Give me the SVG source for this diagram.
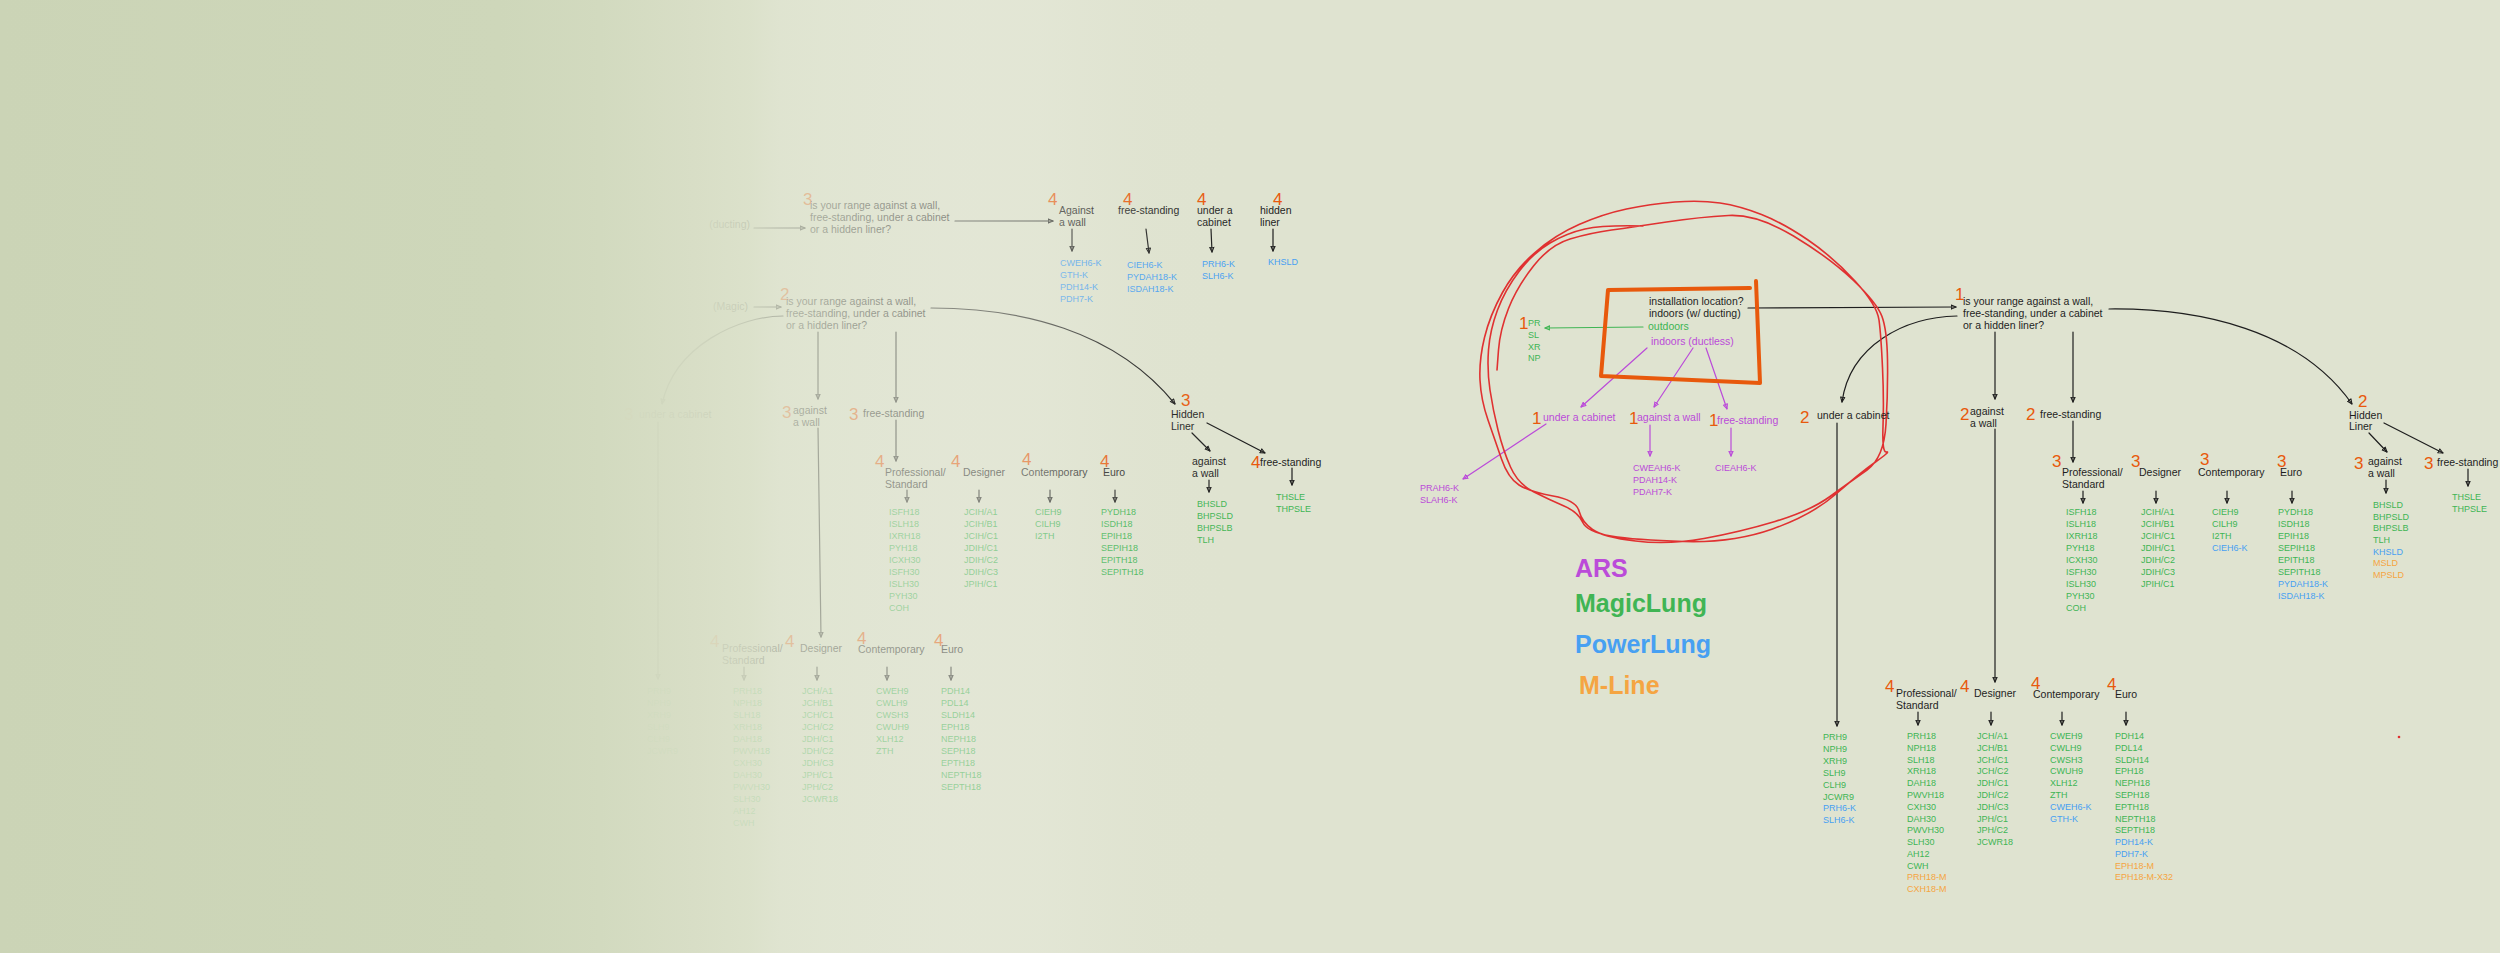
<svg xmlns="http://www.w3.org/2000/svg" width="2500" height="953" viewBox="0 0 2500 953">
<defs>
<style>
text{font-family:"Liberation Sans",Arial,Helvetica,sans-serif}
.t{font-size:10.5px;fill:#1e1e1e}
.n{font-size:17px;fill:#e8590c}
.l{font-size:9px}
.g{fill:#40b554}
.b{fill:#47a0f2}
.o{fill:#f5a542}
.p{fill:#bb4bd9}
.lg{font-size:25px;font-weight:bold}
.c{fill:none;stroke:#1e1e1e;stroke-width:1.2;stroke-linecap:round;marker-end:url(#ak)}
.cp{stroke:#bb4bd9;marker-end:url(#ap)}
.cg{stroke:#40b554;marker-end:url(#ag)}
</style>
<marker id="ak" viewBox="0 0 10 10" refX="9" refY="5" markerWidth="6" markerHeight="6" markerUnits="userSpaceOnUse" orient="auto"><path d="M1,1.5 L9,5 L1,8.5 Z" fill="none" stroke="#1e1e1e" stroke-width="1.8" stroke-linejoin="round"/></marker>
<marker id="ap" viewBox="0 0 10 10" refX="9" refY="5" markerWidth="6" markerHeight="6" markerUnits="userSpaceOnUse" orient="auto"><path d="M1,1.5 L9,5 L1,8.5 Z" fill="none" stroke="#bb4bd9" stroke-width="1.8" stroke-linejoin="round"/></marker>
<marker id="ag" viewBox="0 0 10 10" refX="9" refY="5" markerWidth="6" markerHeight="6" markerUnits="userSpaceOnUse" orient="auto"><path d="M1,1.5 L9,5 L1,8.5 Z" fill="none" stroke="#40b554" stroke-width="1.8" stroke-linejoin="round"/></marker>
<linearGradient id="fade" gradientUnits="userSpaceOnUse" x1="0" y1="0" x2="1250" y2="0">
<stop offset="0" stop-color="#cbd4b6" stop-opacity="1"/>
<stop offset="0.40" stop-color="#ced7ba" stop-opacity="1"/>
<stop offset="0.48" stop-color="#d2dabf" stop-opacity="1"/>
<stop offset="0.56" stop-color="#d8dec6" stop-opacity="0.95"/>
<stop offset="0.60" stop-color="#dbe1ca" stop-opacity="0.88"/>
<stop offset="0.624" stop-color="#dfe4d0" stop-opacity="0.76"/>
<stop offset="0.66" stop-color="#e1e6d3" stop-opacity="0.68"/>
<stop offset="0.704" stop-color="#e3e7d6" stop-opacity="0.6"/>
<stop offset="0.768" stop-color="#e6e9da" stop-opacity="0.52"/>
<stop offset="0.832" stop-color="#e7eadb" stop-opacity="0.42"/>
<stop offset="0.88" stop-color="#e6e9da" stop-opacity="0.22"/>
<stop offset="0.928" stop-color="#e3e6d4" stop-opacity="0.08"/>
<stop offset="1" stop-color="#dfe3d0" stop-opacity="0"/>
</linearGradient>
</defs>
<rect width="2500" height="953" fill="#dfe3d0"/>

<!-- ===== LEFT (older, faded) tree ===== -->
<g id="left-tree">
<g id="l-ducting"><text class="t" x="750" y="228" text-anchor="end">(ducting)</text></g>
<g id="l-q3"><text class="n" x="803" y="205">3</text><text class="t"><tspan x="810" y="209">is your range against a wall,</tspan><tspan x="810" y="221">free-standing, under a cabinet</tspan><tspan x="810" y="233">or a hidden liner?</tspan></text></g>
<g id="l-q3-wall"><text class="n" x="1048" y="205">4</text><text class="t"><tspan x="1059" y="214">Against</tspan><tspan x="1059" y="226">a wall</tspan></text>
<text class="l b"><tspan x="1060" y="266">CWEH6-K</tspan><tspan x="1060" y="278">GTH-K</tspan><tspan x="1060" y="290">PDH14-K</tspan><tspan x="1060" y="302">PDH7-K</tspan></text></g>
<g id="l-q3-free"><text class="n" x="1123" y="205">4</text><text class="t" x="1118" y="214">free-standing</text>
<text class="l b"><tspan x="1127" y="268">CIEH6-K</tspan><tspan x="1127" y="280">PYDAH18-K</tspan><tspan x="1127" y="292">ISDAH18-K</tspan></text></g>
<g id="l-q3-cab"><text class="n" x="1197" y="205">4</text><text class="t"><tspan x="1197" y="214">under a</tspan><tspan x="1197" y="226">cabinet</tspan></text>
<text class="l b"><tspan x="1202" y="267">PRH6-K</tspan><tspan x="1202" y="279">SLH6-K</tspan></text></g>
<g id="l-q3-hidden"><text class="n" x="1273" y="205">4</text><text class="t"><tspan x="1260" y="214">hidden</tspan><tspan x="1260" y="226">liner</tspan></text>
<text class="l b" x="1268" y="265">KHSLD</text></g>

<g id="l-magic"><text class="t" x="713" y="310">(Magic)</text></g>
<g id="l-q2"><text class="n" x="780" y="300">2</text><text class="t"><tspan x="786" y="305">is your range against a wall,</tspan><tspan x="786" y="317">free-standing, under a cabinet</tspan><tspan x="786" y="329">or a hidden liner?</tspan></text></g>
<g id="l-cab"><text class="n" x="624" y="420">3</text><text class="t" x="639" y="418">under a cabinet</text>
<text class="l g"><tspan x="647" y="694">PRH9</tspan><tspan x="647" y="706">NPH9</tspan><tspan x="647" y="718">XRH9</tspan><tspan x="647" y="730">SLH9</tspan><tspan x="647" y="742">CLH9</tspan><tspan x="647" y="754">JCWR9</tspan></text></g>
<g id="l-wall"><text class="n" x="782" y="418">3</text><text class="t"><tspan x="793" y="414">against</tspan><tspan x="793" y="426">a wall</tspan></text></g>
<g id="l-free"><text class="n" x="849" y="420">3</text><text class="t" x="863" y="417">free-standing</text></g>
<g id="l-hidden"><text class="n" x="1181" y="406">3</text><text class="t"><tspan x="1171" y="418">Hidden</tspan><tspan x="1171" y="430">Liner</tspan></text></g>
<g id="l-hl-wall"><text class="t"><tspan x="1192" y="465">against</tspan><tspan x="1192" y="477">a wall</tspan></text>
<text class="l g"><tspan x="1197" y="507">BHSLD</tspan><tspan x="1197" y="519">BHPSLD</tspan><tspan x="1197" y="531">BHPSLB</tspan><tspan x="1197" y="543">TLH</tspan></text></g>
<g id="l-hl-free"><text class="n" x="1251" y="468">4</text><text class="t" x="1260" y="466">free-standing</text>
<text class="l g"><tspan x="1276" y="500">THSLE</tspan><tspan x="1276" y="512">THPSLE</tspan></text></g>

<g id="l-fs-prof"><text class="n" x="875" y="467">4</text><text class="t"><tspan x="885" y="476">Professional/</tspan><tspan x="885" y="488">Standard</tspan></text>
<text class="l g"><tspan x="889" y="515">ISFH18</tspan><tspan x="889" y="527">ISLH18</tspan><tspan x="889" y="539">IXRH18</tspan><tspan x="889" y="551">PYH18</tspan><tspan x="889" y="563">ICXH30</tspan><tspan x="889" y="575">ISFH30</tspan><tspan x="889" y="587">ISLH30</tspan><tspan x="889" y="599">PYH30</tspan><tspan x="889" y="611">COH</tspan></text></g>
<g id="l-fs-designer"><text class="n" x="951" y="467">4</text><text class="t" x="963" y="476">Designer</text>
<text class="l g"><tspan x="964" y="515">JCIH/A1</tspan><tspan x="964" y="527">JCIH/B1</tspan><tspan x="964" y="539">JCIH/C1</tspan><tspan x="964" y="551">JDIH/C1</tspan><tspan x="964" y="563">JDIH/C2</tspan><tspan x="964" y="575">JDIH/C3</tspan><tspan x="964" y="587">JPIH/C1</tspan></text></g>
<g id="l-fs-contemporary"><text class="n" x="1022" y="465">4</text><text class="t" x="1021" y="476">Contemporary</text>
<text class="l g"><tspan x="1035" y="515">CIEH9</tspan><tspan x="1035" y="527">CILH9</tspan><tspan x="1035" y="539">I2TH</tspan></text></g>
<g id="l-fs-euro"><text class="n" x="1100" y="467">4</text><text class="t" x="1103" y="476">Euro</text>
<text class="l g"><tspan x="1101" y="515">PYDH18</tspan><tspan x="1101" y="527">ISDH18</tspan><tspan x="1101" y="539">EPIH18</tspan><tspan x="1101" y="551">SEPIH18</tspan><tspan x="1101" y="563">EPITH18</tspan><tspan x="1101" y="575">SEPITH18</tspan></text></g>

<g id="l-aw-prof"><text class="n" x="710" y="647">4</text><text class="t"><tspan x="722" y="652">Professional/</tspan><tspan x="722" y="664">Standard</tspan></text>
<text class="l g"><tspan x="733" y="694">PRH18</tspan><tspan x="733" y="706">NPH18</tspan><tspan x="733" y="718">SLH18</tspan><tspan x="733" y="730">XRH18</tspan><tspan x="733" y="742">DAH18</tspan><tspan x="733" y="754">PWVH18</tspan><tspan x="733" y="766">CXH30</tspan><tspan x="733" y="778">DAH30</tspan><tspan x="733" y="790">PWVH30</tspan><tspan x="733" y="802">SLH30</tspan><tspan x="733" y="814">AH12</tspan><tspan x="733" y="826">CWH</tspan></text></g>
<g id="l-aw-designer"><text class="n" x="785" y="647">4</text><text class="t" x="800" y="652">Designer</text>
<text class="l g"><tspan x="802" y="694">JCH/A1</tspan><tspan x="802" y="706">JCH/B1</tspan><tspan x="802" y="718">JCH/C1</tspan><tspan x="802" y="730">JCH/C2</tspan><tspan x="802" y="742">JDH/C1</tspan><tspan x="802" y="754">JDH/C2</tspan><tspan x="802" y="766">JDH/C3</tspan><tspan x="802" y="778">JPH/C1</tspan><tspan x="802" y="790">JPH/C2</tspan><tspan x="802" y="802">JCWR18</tspan></text></g>
<g id="l-aw-contemporary"><text class="n" x="857" y="644">4</text><text class="t" x="858" y="653">Contemporary</text>
<text class="l g"><tspan x="876" y="694">CWEH9</tspan><tspan x="876" y="706">CWLH9</tspan><tspan x="876" y="718">CWSH3</tspan><tspan x="876" y="730">CWUH9</tspan><tspan x="876" y="742">XLH12</tspan><tspan x="876" y="754">ZTH</tspan></text></g>
<g id="l-aw-euro"><text class="n" x="934" y="646">4</text><text class="t" x="941" y="653">Euro</text>
<text class="l g"><tspan x="941" y="694">PDH14</tspan><tspan x="941" y="706">PDL14</tspan><tspan x="941" y="718">SLDH14</tspan><tspan x="941" y="730">EPH18</tspan><tspan x="941" y="742">NEPH18</tspan><tspan x="941" y="754">SEPH18</tspan><tspan x="941" y="766">EPTH18</tspan><tspan x="941" y="778">NEPTH18</tspan><tspan x="941" y="790">SEPTH18</tspan></text></g>

<g id="l-connectors">
<path class="c" d="M754,228 L805,228"/>
<path class="c" d="M955,221 L1053,221"/>
<path class="c" d="M1072,229 L1072,251"/>
<path class="c" d="M1146,229 L1149,253"/>
<path class="c" d="M1211,229 L1212,252"/>
<path class="c" d="M1273,229 L1273,251"/>
<path class="c" d="M754,307 L781,307"/>
<path class="c" d="M783,316 C740,316 675,345 662,404"/>
<path class="c" d="M818,332 L818,399"/>
<path class="c" d="M896,332 L896,402"/>
<path class="c" d="M931,308 C1020,308 1115,330 1175,404"/>
<path class="c" d="M818,428 L821,637"/>
<path class="c" d="M896,420 L896,461"/>
<path class="c" d="M1192,433 L1210,451"/>
<path class="c" d="M1207,423 L1265,453"/>
<path class="c" d="M907,490 L907,502"/>
<path class="c" d="M979,490 L979,502"/>
<path class="c" d="M1050,490 L1050,502"/>
<path class="c" d="M1115,490 L1115,502"/>
<path class="c" d="M1209,480 L1209,492"/>
<path class="c" d="M1292,468 L1292,485"/>
<path class="c" d="M744,667 L744,680"/>
<path class="c" d="M817,667 L817,680"/>
<path class="c" d="M887,667 L887,680"/>
<path class="c" d="M951,667 L951,680"/>
<path class="c" d="M658,422 L658,679"/>
</g>
</g>
<rect id="fade-overlay" x="0" y="0" width="1250" height="953" fill="url(#fade)"/>

<!-- ===== RIGHT (current) tree ===== -->
<g id="connectors">
<path class="c" d="M1748,308 L1956,307"/>
<path class="c cg" d="M1643,327 L1545,328"/>
<path class="c cp" d="M1647,348 L1581,407"/>
<path class="c cp" d="M1693,348 L1654,407"/>
<path class="c cp" d="M1706,348 L1727,409"/>
<path class="c cp" d="M1546,424 L1463,479"/>
<path class="c cp" d="M1650,425 L1650,456"/>
<path class="c cp" d="M1731,428 L1731,456"/>
<path class="c" d="M1957,316 C1905,317 1850,345 1842,402"/>
<path class="c" d="M1837,423 L1837,726"/>
<path class="c" d="M1995,332 L1995,399"/>
<path class="c" d="M2073,332 L2073,402"/>
<path class="c" d="M2109,309 C2200,308 2300,330 2352,404"/>
<path class="c" d="M1995,429 L1995,682"/>
<path class="c" d="M2073,421 L2073,462"/>
<path class="c" d="M2369,433 L2387,452"/>
<path class="c" d="M2384,423 L2443,453"/>
<path class="c" d="M2083,491 L2083,503"/>
<path class="c" d="M2156,491 L2156,503"/>
<path class="c" d="M2227,491 L2227,503"/>
<path class="c" d="M2292,491 L2292,503"/>
<path class="c" d="M2386,480 L2386,493"/>
<path class="c" d="M2468,469 L2468,486"/>
<path class="c" d="M1918,712 L1918,725"/>
<path class="c" d="M1991,712 L1991,725"/>
<path class="c" d="M2062,712 L2062,725"/>
<path class="c" d="M2126,712 L2126,725"/>
</g>

<g id="install-location">
<path d="M1608,290 L1750,288 M1756,281 L1760,383 L1601,376 L1608,290" fill="none" stroke="#e8590c" stroke-width="4" stroke-linecap="round" stroke-linejoin="round"/>
<text class="t"><tspan x="1649" y="305">installation location?</tspan><tspan x="1649" y="317">indoors (w/ ducting)</tspan></text>
<text class="t g" x="1648" y="330">outdoors</text>
<text class="t p" x="1651" y="345">indoors (ductless)</text>
</g>
<g id="outdoor-list"><text class="n" x="1519" y="329">1</text>
<text class="l g"><tspan x="1528" y="326">PR</tspan><tspan x="1528" y="338">SL</tspan><tspan x="1528" y="350">XR</tspan><tspan x="1528" y="361">NP</tspan></text></g>
<g id="ars-under-cabinet"><text class="n" x="1532" y="424">1</text><text class="t p" x="1543" y="421">under a cabinet</text>
<text class="l p"><tspan x="1420" y="491">PRAH6-K</tspan><tspan x="1420" y="503">SLAH6-K</tspan></text></g>
<g id="ars-against-wall"><text class="n" x="1629" y="424">1</text><text class="t p" x="1637" y="421">against a wall</text>
<text class="l p"><tspan x="1633" y="471">CWEAH6-K</tspan><tspan x="1633" y="483">PDAH14-K</tspan><tspan x="1633" y="495">PDAH7-K</tspan></text></g>
<g id="ars-free-standing"><text class="n" x="1709" y="426">1</text><text class="t p" x="1717" y="424">free-standing</text>
<text class="l p" x="1715" y="471">CIEAH6-K</text></g>

<g id="red-scribble">
<path d="M1643,226 Q1603,225 1585,229 Q1567,233 1550,243 Q1533,253 1519,271.5 Q1505,290 1497.5,310 Q1490,330 1488.5,350 Q1487,370 1490,390 Q1493,410 1498,430 Q1503,450 1510.5,467 Q1518,484 1534,492 Q1550,500 1564,506 Q1578,512 1582.5,522 Q1587,532 1611,536 Q1635,540 1684,541.5 Q1733,543 1772.5,529 Q1812,515 1836,494 Q1860,473 1875.5,462 Q1891,451 1886.5,452 Q1882,453 1883,426.5 Q1884,400 1882.5,367.5 Q1881,335 1879,320 Q1877,305 1855,281 Q1833,257 1808,240 Q1783,223 1761.5,214.5 Q1740,206 1720,203 Q1700,200 1675,202 Q1650,204 1626.5,209 Q1603,214 1579,224.5 Q1555,235 1535,252.5 Q1515,270 1502.5,292.5 Q1490,315 1484.5,337.5 Q1479,360 1480,380 Q1481,400 1488,420 Q1495,440 1501.5,459 Q1508,478 1519,485 Q1530,492 1553,496 Q1576,500 1579,511 Q1582,522 1592.5,529.5 Q1603,537 1635.5,541 Q1668,545 1704,538.5 Q1740,532 1775,521.5 Q1810,511 1830,496.5 Q1850,482 1867,470 Q1884,458 1886,424 Q1888,390 1887.5,360 Q1887,330 1882,316.5 Q1877,303 1853.5,280.5 Q1830,258 1793.5,236 Q1757,214 1728.5,215.5 Q1700,217 1666.5,222 Q1633,227 1611.5,230 Q1590,233 1570,239 Q1550,245 1533.5,266 Q1517,287 1508.5,308.5 Q1500,330 1498.5,350 L1497,370" fill="none" stroke="#e03131" stroke-width="1.6" stroke-linecap="round" stroke-linejoin="round"/>
</g>

<g id="q1"><text class="n" x="1955" y="300">1</text><text class="t"><tspan x="1963" y="305">is your range against a wall,</tspan><tspan x="1963" y="317">free-standing, under a cabinet</tspan><tspan x="1963" y="329">or a hidden liner?</tspan></text></g>
<g id="under-cabinet"><text class="n" x="1800" y="423">2</text><text class="t" x="1817" y="419">under a cabinet</text>
<text class="l"><tspan class="g" x="1823" y="740">PRH9</tspan><tspan class="g" x="1823" y="752">NPH9</tspan><tspan class="g" x="1823" y="764">XRH9</tspan><tspan class="g" x="1823" y="776">SLH9</tspan><tspan class="g" x="1823" y="788">CLH9</tspan><tspan class="g" x="1823" y="800">JCWR9</tspan><tspan class="b" x="1823" y="811">PRH6-K</tspan><tspan class="b" x="1823" y="823">SLH6-K</tspan></text></g>
<g id="against-wall"><text class="n" x="1960" y="420">2</text><text class="t"><tspan x="1970" y="415">against</tspan><tspan x="1970" y="427">a wall</tspan></text></g>
<g id="free-standing"><text class="n" x="2026" y="420">2</text><text class="t" x="2040" y="418">free-standing</text></g>
<g id="hidden-liner"><text class="n" x="2358" y="407">2</text><text class="t"><tspan x="2349" y="419">Hidden</tspan><tspan x="2349" y="430">Liner</tspan></text></g>

<g id="fs-professional"><text class="n" x="2052" y="467">3</text><text class="t"><tspan x="2062" y="476">Professional/</tspan><tspan x="2062" y="488">Standard</tspan></text>
<text class="l g"><tspan x="2066" y="515">ISFH18</tspan><tspan x="2066" y="527">ISLH18</tspan><tspan x="2066" y="539">IXRH18</tspan><tspan x="2066" y="551">PYH18</tspan><tspan x="2066" y="563">ICXH30</tspan><tspan x="2066" y="575">ISFH30</tspan><tspan x="2066" y="587">ISLH30</tspan><tspan x="2066" y="599">PYH30</tspan><tspan x="2066" y="611">COH</tspan></text></g>
<g id="fs-designer"><text class="n" x="2131" y="467">3</text><text class="t" x="2139" y="476">Designer</text>
<text class="l g"><tspan x="2141" y="515">JCIH/A1</tspan><tspan x="2141" y="527">JCIH/B1</tspan><tspan x="2141" y="539">JCIH/C1</tspan><tspan x="2141" y="551">JDIH/C1</tspan><tspan x="2141" y="563">JDIH/C2</tspan><tspan x="2141" y="575">JDIH/C3</tspan><tspan x="2141" y="587">JPIH/C1</tspan></text></g>
<g id="fs-contemporary"><text class="n" x="2200" y="465">3</text><text class="t" x="2198" y="476">Contemporary</text>
<text class="l"><tspan class="g" x="2212" y="515">CIEH9</tspan><tspan class="g" x="2212" y="527">CILH9</tspan><tspan class="g" x="2212" y="539">I2TH</tspan><tspan class="b" x="2212" y="551">CIEH6-K</tspan></text></g>
<g id="fs-euro"><text class="n" x="2277" y="467">3</text><text class="t" x="2280" y="476">Euro</text>
<text class="l"><tspan class="g" x="2278" y="515">PYDH18</tspan><tspan class="g" x="2278" y="527">ISDH18</tspan><tspan class="g" x="2278" y="539">EPIH18</tspan><tspan class="g" x="2278" y="551">SEPIH18</tspan><tspan class="g" x="2278" y="563">EPITH18</tspan><tspan class="g" x="2278" y="575">SEPITH18</tspan><tspan class="b" x="2278" y="587">PYDAH18-K</tspan><tspan class="b" x="2278" y="599">ISDAH18-K</tspan></text></g>
<g id="hl-against-wall"><text class="n" x="2354" y="469">3</text><text class="t"><tspan x="2368" y="465">against</tspan><tspan x="2368" y="477">a wall</tspan></text>
<text class="l"><tspan class="g" x="2373" y="508">BHSLD</tspan><tspan class="g" x="2373" y="520">BHPSLD</tspan><tspan class="g" x="2373" y="531">BHPSLB</tspan><tspan class="g" x="2373" y="543">TLH</tspan><tspan class="b" x="2373" y="555">KHSLD</tspan><tspan class="o" x="2373" y="566">MSLD</tspan><tspan class="o" x="2373" y="578">MPSLD</tspan></text></g>
<g id="hl-free-standing"><text class="n" x="2424" y="469">3</text><text class="t" x="2437" y="466">free-standing</text>
<text class="l g"><tspan x="2452" y="500">THSLE</tspan><tspan x="2452" y="512">THPSLE</tspan></text></g>

<g id="aw-professional"><text class="n" x="1885" y="692">4</text><text class="t"><tspan x="1896" y="697">Professional/</tspan><tspan x="1896" y="709">Standard</tspan></text>
<text class="l"><tspan class="g" x="1907" y="739">PRH18</tspan><tspan class="g" x="1907" y="751">NPH18</tspan><tspan class="g" x="1907" y="763">SLH18</tspan><tspan class="g" x="1907" y="774">XRH18</tspan><tspan class="g" x="1907" y="786">DAH18</tspan><tspan class="g" x="1907" y="798">PWVH18</tspan><tspan class="g" x="1907" y="810">CXH30</tspan><tspan class="g" x="1907" y="822">DAH30</tspan><tspan class="g" x="1907" y="833">PWVH30</tspan><tspan class="g" x="1907" y="845">SLH30</tspan><tspan class="g" x="1907" y="857">AH12</tspan><tspan class="g" x="1907" y="869">CWH</tspan><tspan class="o" x="1907" y="880">PRH18-M</tspan><tspan class="o" x="1907" y="892">CXH18-M</tspan></text></g>
<g id="aw-designer"><text class="n" x="1960" y="692">4</text><text class="t" x="1974" y="697">Designer</text>
<text class="l g"><tspan x="1977" y="739">JCH/A1</tspan><tspan x="1977" y="751">JCH/B1</tspan><tspan x="1977" y="763">JCH/C1</tspan><tspan x="1977" y="774">JCH/C2</tspan><tspan x="1977" y="786">JDH/C1</tspan><tspan x="1977" y="798">JDH/C2</tspan><tspan x="1977" y="810">JDH/C3</tspan><tspan x="1977" y="822">JPH/C1</tspan><tspan x="1977" y="833">JPH/C2</tspan><tspan x="1977" y="845">JCWR18</tspan></text></g>
<g id="aw-contemporary"><text class="n" x="2031" y="689">4</text><text class="t" x="2033" y="698">Contemporary</text>
<text class="l"><tspan class="g" x="2050" y="739">CWEH9</tspan><tspan class="g" x="2050" y="751">CWLH9</tspan><tspan class="g" x="2050" y="763">CWSH3</tspan><tspan class="g" x="2050" y="774">CWUH9</tspan><tspan class="g" x="2050" y="786">XLH12</tspan><tspan class="g" x="2050" y="798">ZTH</tspan><tspan class="b" x="2050" y="810">CWEH6-K</tspan><tspan class="b" x="2050" y="822">GTH-K</tspan></text></g>
<g id="aw-euro"><text class="n" x="2107" y="690">4</text><text class="t" x="2115" y="698">Euro</text>
<text class="l"><tspan class="g" x="2115" y="739">PDH14</tspan><tspan class="g" x="2115" y="751">PDL14</tspan><tspan class="g" x="2115" y="763">SLDH14</tspan><tspan class="g" x="2115" y="774">EPH18</tspan><tspan class="g" x="2115" y="786">NEPH18</tspan><tspan class="g" x="2115" y="798">SEPH18</tspan><tspan class="g" x="2115" y="810">EPTH18</tspan><tspan class="g" x="2115" y="822">NEPTH18</tspan><tspan class="g" x="2115" y="833">SEPTH18</tspan><tspan class="b" x="2115" y="845">PDH14-K</tspan><tspan class="b" x="2115" y="857">PDH7-K</tspan><tspan class="o" x="2115" y="869">EPH18-M</tspan><tspan class="o" x="2115" y="880">EPH18-M-X32</tspan></text></g>

<g id="legend">
<text class="lg p" x="1575" y="577">ARS</text>
<text class="lg g" x="1575" y="612">MagicLung</text>
<text class="lg b" x="1575" y="653">PowerLung</text>
<text class="lg o" x="1579" y="694">M-Line</text>
</g>
<circle cx="2399" cy="737" r="1.3" fill="#e03131"/>
</svg>
